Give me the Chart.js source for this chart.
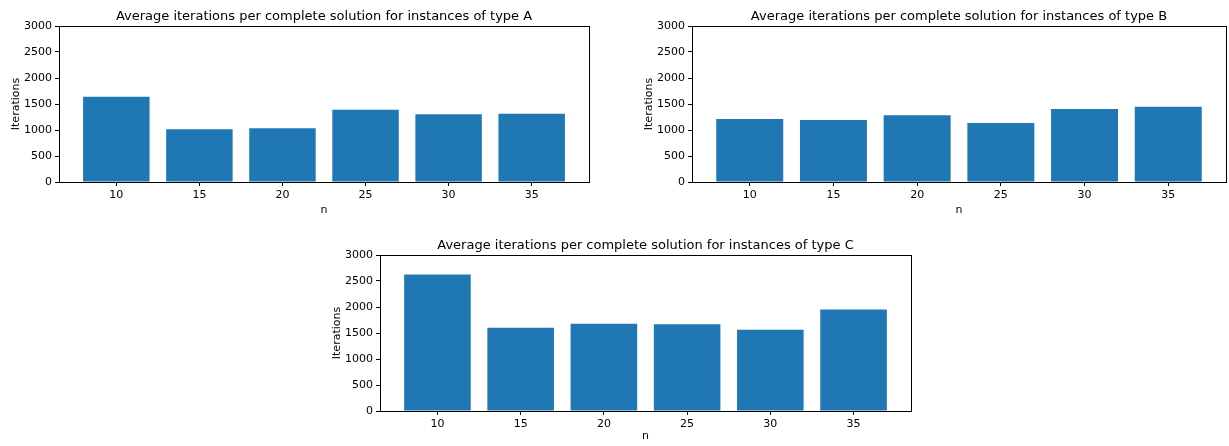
<!DOCTYPE html>
<html>
<head>
<meta charset="utf-8">
<script src="https://cdn.jsdelivr.net/npm/chart.js@4/dist/chart.umd.min.js"></script>
<style>
  html, body { margin: 0; padding: 0; background: #fff; overflow: hidden; }
  body { width: 1229px; height: 446px; position: relative; }
  .box { position: absolute; }
</style>
</head>
<body>
<div class="box" style="left:0px; top:0px; width:600px; height:220px;"><canvas id="chartA"></canvas></div>
<div class="box" style="left:633px; top:0px; width:596px; height:220px;"><canvas id="chartB"></canvas></div>
<div class="box" style="left:321px; top:229px; width:600px; height:217px;"><canvas id="chartC"></canvas></div>
<script>
// values
const nValues = [10, 15, 20, 25, 30, 35];
const itersA = [1641, 1013, 1032, 1391, 1301, 1314];
const itersB = [1212, 1192, 1282, 1135, 1404, 1449];
const itersC = [2623, 1602, 1679, 1666, 1564, 1953];
const yTicks = [0, 500, 1000, 1500, 2000, 2500, 3000];

const titles = {
  A: 'Average iterations per complete solution for instances of type A',
  B: 'Average iterations per complete solution for instances of type B',
  C: 'Average iterations per complete solution for instances of type C'
};

Chart.defaults.font.family = '"DejaVu Sans", sans-serif';
Chart.defaults.color = '#000';

// matplotlib style frame round the plot area, title centred over it
const frame = {
  id: 'frame',
  afterDatasetsDraw(chart) {
    const a = chart.chartArea, ctx = chart.ctx;
    ctx.save();
    ctx.strokeStyle = '#000';
    ctx.lineWidth = 1;
    ctx.strokeRect(Math.round(a.left) + 0.5, Math.round(a.top) + 0.5,
      Math.round(a.right - a.left), Math.round(a.bottom - a.top));
    ctx.fillStyle = '#000';
    ctx.font = '13px "DejaVu Sans", sans-serif';
    ctx.textAlign = 'center';
    ctx.textBaseline = 'alphabetic';
    ctx.fillText(chart.options.plugins.frame.title, (a.left + a.right) / 2, a.top - 6);
    ctx.restore();
  }
};

function makeChart(id, title, values, xAxisHeight, padRight) {
  new Chart(document.getElementById(id), {
    type: 'bar',
    data: {
      datasets: [{
        data: nValues.map((n, i) => ({ x: n, y: values[i] })),
        backgroundColor: '#1f77b4',
        borderWidth: 0,
        barPercentage: 0.8,
        categoryPercentage: 1.0
      }]
    },
    options: {
      responsive: true,
      maintainAspectRatio: false,
      animation: false,
      layout: { padding: { left: 0, right: padRight, top: 26, bottom: 0 } },
      plugins: {
        legend: { display: false },
        tooltip: { enabled: false },
        title: { display: false },
        frame: { title: title }
      },
      scales: {
        x: {
          type: 'linear',
          offset: false,
          min: 6.55,
          max: 38.45,
          afterBuildTicks: s => { s.ticks = nValues.map(v => ({ value: v })); },
          afterFit: s => { s.height = xAxisHeight; },
          grid: { offset: false, drawOnChartArea: false, drawTicks: true, tickLength: 4, color: '#000' },
          border: { display: true, color: '#000' },
          ticks: { font: { size: 11 }, padding: 3, maxRotation: 0, callback: v => String(v) },
          title: { display: true, text: 'n', font: { size: 11 }, padding: { top: 0, bottom: 3 } }
        },
        y: {
          min: 0,
          max: 3000,
          afterBuildTicks: s => { s.ticks = yTicks.map(v => ({ value: v })); },
          afterFit: s => { s.width = 59; },
          grid: { drawOnChartArea: false, drawTicks: true, tickLength: 4, color: '#000' },
          border: { display: true, color: '#000' },
          ticks: { font: { size: 11 }, padding: 3, callback: v => String(v) },
          title: { display: true, text: 'Iterations', font: { size: 11 }, padding: { top: 10, bottom: 0 } }
        }
      }
    },
    plugins: [frame]
  });
}

makeChart('chartA', titles.A, itersA, 38, 11);
makeChart('chartB', titles.B, itersB, 38, 3);
makeChart('chartC', titles.C, itersC, 35, 10);
</script>
</body>
</html>
